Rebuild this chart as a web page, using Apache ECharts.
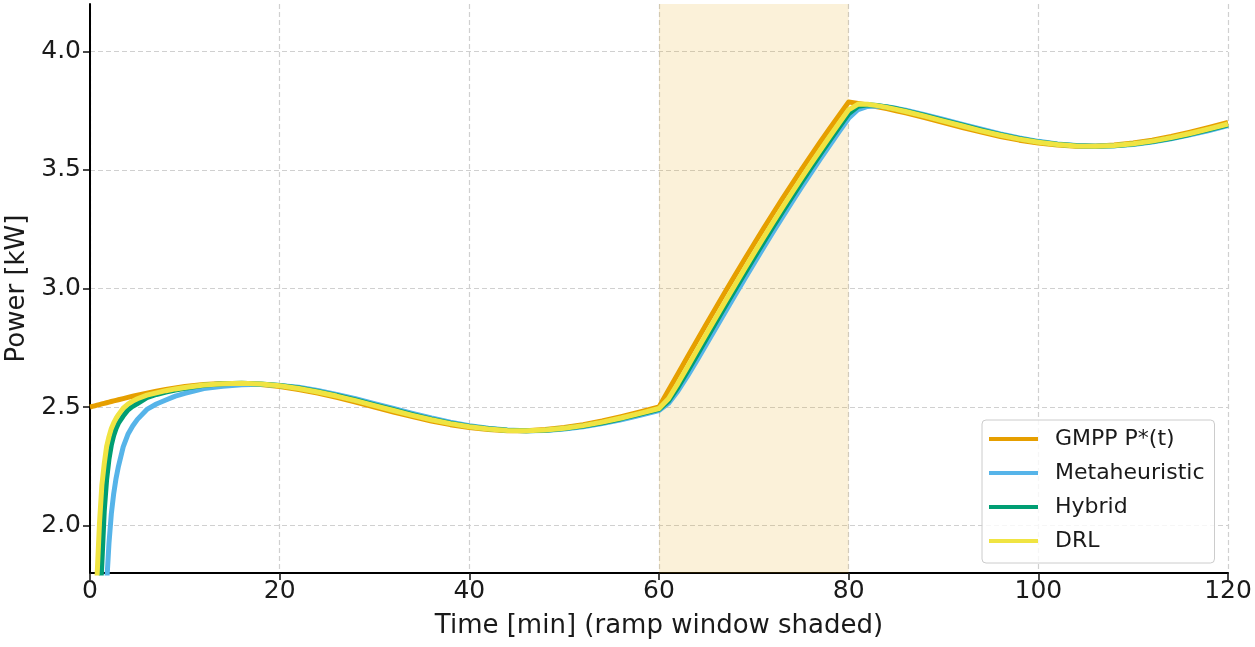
<!DOCTYPE html>
<html>
<head>
<meta charset="utf-8">
<script src="https://cdn.jsdelivr.net/npm/echarts@6/dist/echarts.min.js"></script>
<style>
    html, body { margin: 0; padding: 0; background: #fff; }
    #myChart { width: 1255px; height: 647px; }
</style>
</head>
<body>
<div id="myChart"></div>
<script>
    // time samples [min]
    var timeMin = [0, 0.25, 0.5, 0.75, 1, 1.25, 1.5, 1.75, 2, 2.25, 2.5, 2.75, 3, 3.5, 4, 4.5, 5, 6, 7, 8, 9, 10,
        12, 14, 16, 18, 20, 22, 24, 26, 28, 30, 32, 34, 36, 38, 40, 42, 44, 46, 48, 50, 52, 54, 56, 58, 60,
        61, 62, 63, 64, 65, 66, 67, 68, 69, 70, 71, 72, 73, 74, 75, 76, 77, 78, 79, 80, 81, 82, 83, 84, 85, 86,
        88, 90, 92, 94, 96, 98, 100, 102, 104, 106, 108, 110, 112, 114, 116, 118, 120];

    var gmpp = [2.5, 2.5026, 2.5052, 2.5078, 2.5105, 2.5131, 2.5156, 2.5182, 2.5208, 2.5233, 2.5259, 2.5284, 2.5309, 2.5358, 2.5407, 2.5454, 2.55, 2.5588, 2.5669, 2.5743, 2.5809, 2.5866,
        2.5951, 2.5995, 2.5995, 2.5951, 2.5866, 2.5743, 2.5588, 2.5407, 2.5208, 2.5, 2.4792, 2.4593, 2.4412, 2.4257, 2.4134, 2.4049, 2.4005, 2.4005, 2.4049, 2.4134, 2.4257, 2.4412, 2.4593, 2.4792, 2.5,
        2.5705, 2.6408, 2.7109, 2.7807, 2.85, 2.9188, 2.9869, 3.0543, 3.1209, 3.1866, 3.2514, 3.3151, 3.3778, 3.4395, 3.5, 3.5595, 3.6178, 3.6751, 3.7314, 3.7866, 3.7809, 3.7743, 3.7669, 3.7588, 3.75, 3.7407,
        3.7208, 3.7, 3.6792, 3.6593, 3.6412, 3.6257, 3.6134, 3.6049, 3.6005, 3.6005, 3.6049, 3.6134, 3.6257, 3.6412, 3.6593, 3.6792, 3.7];

    var metaheuristic = [0, 0.3, 0.6, 0.95, 1.25, 1.47, 1.63, 1.75, 1.925, 2.05, 2.135, 2.2, 2.25, 2.332, 2.385, 2.42, 2.448, 2.49, 2.513, 2.53, 2.546, 2.558,
        2.578, 2.588, 2.594, 2.596, 2.591, 2.5833, 2.57, 2.5536, 2.5349, 2.5146, 2.4937, 2.4731, 2.4537, 2.4363, 2.4216, 2.4104, 2.4031, 2.4001, 2.4014, 2.407, 2.4167, 2.43, 2.4464, 2.4651, 2.4854,
        2.5155, 2.5678, 2.6301, 2.6967, 2.765, 2.8338, 2.9022, 2.9705, 3.0382, 3.105, 3.1711, 3.236, 3.3001, 3.3631, 3.425, 3.4859, 3.5455, 3.6041, 3.6617, 3.7182, 3.755, 3.768, 3.7698, 3.7663, 3.7599, 3.7521,
        3.7334, 3.7131, 3.6922, 3.6716, 3.6523, 3.6351, 3.6207, 3.6097, 3.6028, 3.6, 3.6017, 3.6076, 3.6176, 3.6312, 3.6478, 3.6666, 3.6869];

    var hybrid = [0, 0.5, 0.95, 1.35, 1.63, 1.84, 2.06, 2.193, 2.28, 2.34, 2.38, 2.41, 2.432, 2.462, 2.488, 2.503, 2.515, 2.54, 2.553, 2.563, 2.572, 2.5795,
        2.5918, 2.598, 2.6, 2.5976, 2.5909, 2.5803, 2.5661, 2.5491, 2.5299, 2.5094, 2.4885, 2.4681, 2.4491, 2.4323, 2.4185, 2.4082, 2.402, 2.4, 2.4024, 2.4091, 2.4197, 2.4339, 2.4509, 2.4701, 2.4906,
        2.5249, 2.5834, 2.6498, 2.7187, 2.7878, 2.8572, 2.9259, 2.994, 3.0614, 3.1279, 3.1936, 3.2582, 3.3218, 3.3845, 3.446, 3.5065, 3.5658, 3.624, 3.6812, 3.7373, 3.7686, 3.7748, 3.772, 3.7658, 3.7582, 3.7493,
        3.7299, 3.7094, 3.6885, 3.6681, 3.6491, 3.6323, 3.6185, 3.6082, 3.602, 3.6, 3.6024, 3.6091, 3.6197, 3.6339, 3.6509, 3.6701, 3.6906];

    var drl = [0, 0.95, 1.45, 1.79, 2.01, 2.17, 2.26, 2.333, 2.375, 2.41, 2.433, 2.452, 2.468, 2.495, 2.512, 2.525, 2.535, 2.55, 2.56, 2.569, 2.5765, 2.5825,
        2.593, 2.5986, 2.5999, 2.5969, 2.5896, 2.5784, 2.5637, 2.5463, 2.5269, 2.5063, 2.4854, 2.4651, 2.4464, 2.43, 2.4167, 2.407, 2.4014, 2.4001, 2.4031, 2.4104, 2.4216, 2.4363, 2.4537, 2.4731, 2.4937,
        2.5351, 2.6, 2.6691, 2.739, 2.8086, 2.8777, 2.9462, 3.0141, 3.0812, 3.1475, 3.2128, 3.2772, 3.3405, 3.4028, 3.464, 3.5242, 3.5831, 3.641, 3.698, 3.7537, 3.7778, 3.7772, 3.7714, 3.7639, 3.7554, 3.7464,
        3.7269, 3.7063, 3.6854, 3.6651, 3.6464, 3.63, 3.6167, 3.607, 3.6014, 3.6001, 3.6031, 3.6104, 3.6216, 3.6363, 3.6537, 3.6731, 3.6937];

    var seriesNames = ['GMPP P*(t)', 'Metaheuristic', 'Hybrid', 'DRL'];
    var seriesColors = ['#E69F00', '#56B4E9', '#009E73', '#F0E442'];
    var rampWindow = [60, 80];
    var xTicks = [0, 120, 20];        // min, max, step
    var yRange = [1.8, 4.2];
    var yLabelStep = 0.5;

    function pairs(vals) {
        return timeMin.map(function (t, i) { return [t, vals[i]]; });
    }

    var FONT = 'DejaVu Sans';
    var none = 'rgba(0,0,0,0)';
    // axis uses 0.1 steps (1.8 is a multiple); only every 5th step (2.0, 2.5, ...) is drawn
    var gridColors = [none, none, '#d0d0d0', none, none];
    var tickColors = [none, none, '#1a1a1a', none, none];

    var myChart = echarts.init(document.getElementById('myChart'), null, {renderer: 'canvas'});

    var allData = [gmpp, metaheuristic, hybrid, drl];
    var series = allData.map(function (vals, i) {
        var s = {
            name: seriesNames[i],
            type: 'line',
            data: pairs(vals),
            symbol: 'none',
            smooth: false,
            clip: true,
            xAxisIndex: 0,
            yAxisIndex: 0,
            lineStyle: {color: seriesColors[i], width: 5, cap: 'butt', join: 'round'},
            itemStyle: {color: seriesColors[i]},
            emphasis: {disabled: true}
        };
        if (i === 0) {
            s.markArea = {
                silent: true,
                itemStyle: {color: 'rgba(230,159,0,0.15)'},
                data: [[{xAxis: rampWindow[0]}, {xAxis: rampWindow[1]}]]
            };
        }
        return s;
    });

    var option = {
        animation: false,
        backgroundColor: '#ffffff',
        textStyle: {fontFamily: FONT},
        grid: [
            {left: 90, right: 27, top: 4, bottom: 74, containLabel: false, outerBoundsMode: 'none'},
            // thin strip left of the axis: its split lines act as the y tick marks
            {left: 83, width: 7, top: 4, bottom: 74, containLabel: false, outerBoundsMode: 'none'}
        ],
        legend: {
            data: seriesNames,
            orient: 'vertical',
            left: 982,
            top: 420,
            padding: [7, 10, 10, 7],
            icon: 'path://M0,0 L49,0 L49,4 L0,4 Z',
            symbolKeepAspect: true,
            itemWidth: 49,
            itemHeight: 24,
            itemGap: 10,
            backgroundColor: 'rgba(255,255,255,0.8)',
            borderColor: '#cccccc',
            borderWidth: 1,
            borderRadius: 4,
            selectedMode: false,
            textStyle: {fontFamily: FONT, fontSize: 22, color: '#1a1a1a', lineHeight: 24, padding: [0, 0, 0, 12]}
        },
        xAxis: [
            {
                type: 'value',
                gridIndex: 0,
                min: xTicks[0],
                max: xTicks[1],
                interval: xTicks[2],
                name: 'Time [min] (ramp window shaded)',
                nameLocation: 'middle',
                nameGap: 40,
                nameTextStyle: {fontFamily: FONT, fontSize: 26, color: '#1a1a1a'},
                axisLine: {show: true, onZero: false, lineStyle: {color: '#000', width: 2}},
                axisTick: {show: true, inside: false, length: 7, lineStyle: {color: '#1a1a1a', width: 1.6}},
                axisLabel: {margin: 6, fontFamily: FONT, fontSize: 25, color: '#1a1a1a'},
                splitLine: {show: true, lineStyle: {color: '#d0d0d0', width: 1.2, type: [5, 3]}}
            },
            {
                type: 'value',
                gridIndex: 1,
                min: 0,
                max: 1,
                show: false
            }
        ],
        yAxis: [
            {
                type: 'value',
                gridIndex: 0,
                min: yRange[0],
                max: yRange[1],
                interval: 0.1,
                name: 'Power [kW]',
                nameLocation: 'middle',
                nameGap: 59,
                nameTextStyle: {fontFamily: FONT, fontSize: 26, color: '#1a1a1a'},
                axisLine: {show: true, onZero: false, lineStyle: {color: '#000', width: 2}},
                axisTick: {show: false},
                axisLabel: {
                    margin: 9,
                    fontFamily: FONT,
                    fontSize: 25,
                    color: '#1a1a1a',
                    formatter: function (v) {
                        var k = v / yLabelStep;
                        return Math.abs(k - Math.round(k)) < 1e-6 ? v.toFixed(1) : '';
                    }
                },
                splitLine: {show: true, lineStyle: {color: gridColors, width: 1.2, type: [5, 3]}}
            },
            {
                type: 'value',
                gridIndex: 1,
                min: yRange[0],
                max: yRange[1],
                interval: 0.1,
                axisLine: {show: false},
                axisTick: {show: false},
                axisLabel: {show: false},
                splitLine: {show: true, lineStyle: {color: tickColors, width: 1.6, type: 'solid'}}
            }
        ],
        series: series
    };
    myChart.setOption(option);
</script>
</body>
</html>
